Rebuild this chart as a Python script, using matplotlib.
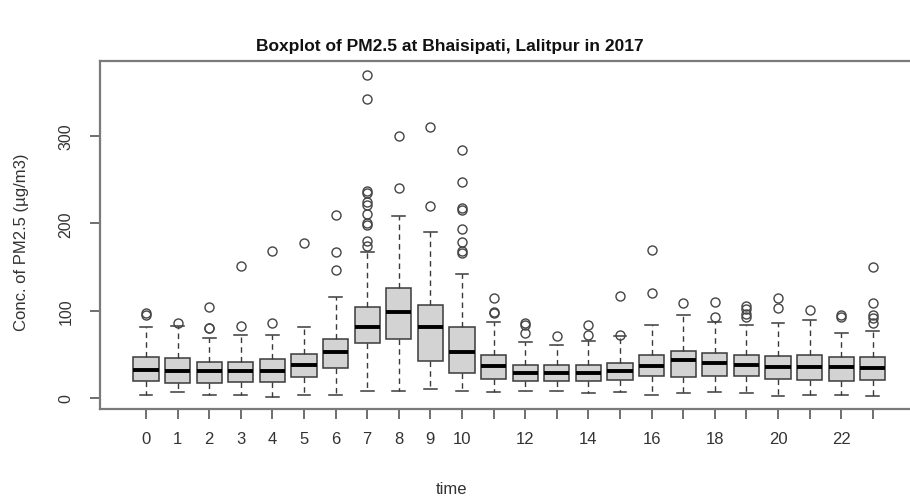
import matplotlib
matplotlib.use("Agg")
import matplotlib.pyplot as plt

plt.rcParams['font.family'] = ['Liberation Sans', 'DejaVu Sans']
NARROW = ['Liberation Sans Narrow', 'Liberation Sans', 'DejaVu Sans']

# Hourly PM2.5 summary (ug/m3)
hours = list(range(24))
q1 = [19, 16.8, 16.8, 18, 18, 23.7, 34.4, 63, 67.6, 42, 28.3, 21.8,
      19, 19, 19, 21, 24.8, 23.7, 24.8, 25.6, 21.8, 21, 19, 21]
med = [32.4, 30.5, 30.5, 30.5, 30.5, 37.8, 52.3, 81, 98.2, 81, 52.3, 37,
       28.3, 28.3, 28.3, 31.3, 37, 43.5, 39.7, 37.8, 35.1, 35.1, 35.1, 34]
q3 = [47.3, 45.4, 41.6, 41.6, 44.7, 50, 67.6, 104.6, 125.6, 106.9, 81, 49.6,
      38.2, 38.2, 38.2, 40, 49.6, 54.2, 51.5, 49.6, 47.8, 49.3, 46.6, 47.3]
whis_lo = [3.4, 6.5, 3.4, 3.4, 0.8, 3.4, 3.4, 7.6, 7.6, 10.3, 7.6, 6.5,
           7.6, 7.6, 5.3, 6.5, 3.4, 5.7, 7.2, 5.7, 2.7, 3.8, 3.8, 2.7]
whis_hi = [81, 82.9, 68.4, 72.5, 72.5, 81, 116, 167.6, 208.8, 190.5, 142, 86.7,
           64.5, 61, 65.6, 71.4, 84, 95.4, 86.7, 84, 85.9, 89.3, 74.5, 77]
outliers = [
    [95.6, 97],
    [86],
    [79.8, 80.5, 104.6],
    [82.9, 151.6],
    [85.7, 168],
    [177.5],
    [146.6, 166.8, 209.6],
    [174.5, 180, 198.5, 201, 210.8, 221.5, 224, 234.8, 237.5, 343, 370],
    [240.5, 299.7],
    [220.3, 310.8],
    [166, 168.7, 179, 193.6, 215.3, 217.6, 247, 284],
    [97.4, 99, 114.5],
    [74.5, 84, 86],
    [71.4],
    [72, 84],
    [72, 117],
    [120, 169.5],
    [108.8],
    [93, 110.3],
    [92.4, 96.2, 102, 105],
    [103, 114.5],
    [100.8],
    [92.4, 95],
    [86, 91.3, 95, 108.8, 150.4],
]
tick_labels = ['0', '1', '2', '3', '4', '5', '6', '7', '8', '9', '10', '',
               '12', '', '14', '', '16', '', '18', '', '20', '', '22', '']

stats = []
for i in range(len(hours)):
    stats.append(dict(med=med[i], q1=q1[i], q3=q3[i], whislo=whis_lo[i],
                      whishi=whis_hi[i], fliers=outliers[i]))

W, H = 910, 502
fig = plt.figure(figsize=(W / 100, H / 100), dpi=100)
# axes frame: left edge at x=100px, top y=62, bottom y=410, runs past right edge
ax = fig.add_axes([100 / W, 92 / H, 820 / W, 348 / H])

edge = '#3a3a3a'
ax.bxp(stats, positions=hours, widths=0.8, patch_artist=True,
       boxprops=dict(facecolor='#d3d3d3', edgecolor=edge, linewidth=1.1),
       medianprops=dict(color='black', linewidth=2.8, solid_capstyle='butt'),
       whiskerprops=dict(color=edge, linewidth=1.0, linestyle=(0, (4, 3))),
       capprops=dict(color=edge, linewidth=1.1),
       capwidths=0.4,
       flierprops=dict(marker='o', markersize=6.5, markerfacecolor='none',
                       markeredgecolor='#444444', markeredgewidth=1.0))

px = 31.6  # pixels per hour
ax.set_xlim(-46 / px, -46 / px + 820 / px)
ax.set_ylim(-12.6, 386)

ax.set_xticks(hours)
ax.set_xticklabels(tick_labels, family=NARROW, fontsize=12)
ax.set_yticks([0, 100, 200, 300])
ax.set_yticklabels(['0', '100', '200', '300'], rotation=90, va='center',
                   fontsize=11.5)

for s in ax.spines.values():
    s.set_color('#7a7a7a')
    s.set_linewidth(1.6)

ax.tick_params(axis='both', colors='#555555', labelcolor='#333333',
               length=7, width=1.2)
ax.tick_params(axis='x', pad=9)
ax.tick_params(axis='y', pad=12)

fig.text(450 / W, 1 - 47 / H, 'Boxplot of PM2.5 at Bhaisipati, Lalitpur in 2017',
         ha='center', va='center', fontsize=12.5, fontweight='bold', color='#111111')
fig.text(451 / W, 1 - 490 / H, 'time', ha='center', va='center',
         fontsize=12, color='#333333', family=NARROW)
fig.text(22 / W, 1 - 242 / H, 'Conc. of PM2.5 (\u00b5g/m3)', ha='center', va='center',
         rotation=90, fontsize=12, color='#333333')

fig.savefig('out.png', dpi=100)
